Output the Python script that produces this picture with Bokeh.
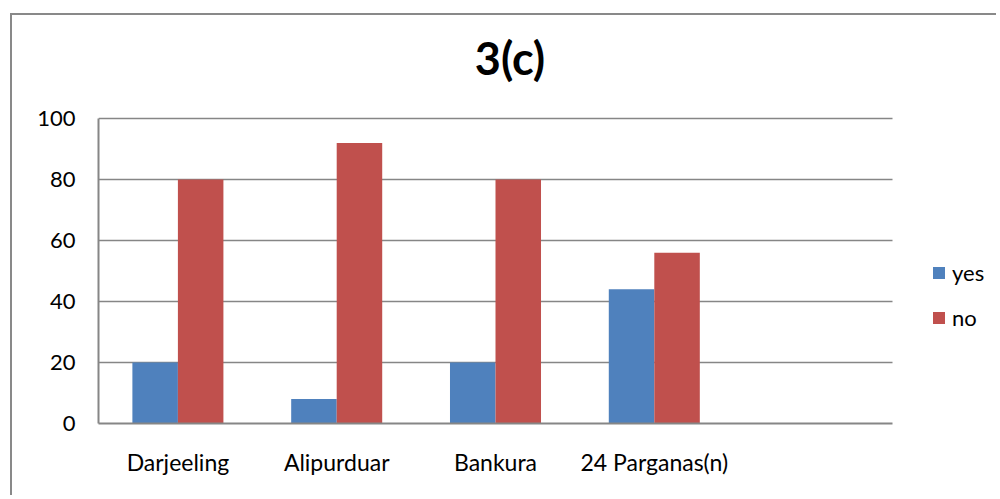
from bokeh.plotting import figure
from bokeh.models import (ColumnDataSource, Range1d, FixedTicker, Legend, LegendItem, Label)
from bokeh.embed import file_html
from bokeh.resources import INLINE

categories = ["Darjeeling", "Alipurduar", "Bankura", "24 Parganas(n)"]
yes_vals = [20, 8, 20, 44]
no_vals = [80, 92, 80, 56]
series_names = ["yes", "no"]
y_ticks = [0, 20, 40, 60, 80, 100]
title_text = "3(c)"

FONT = "Lato"
BLUE = "#4F81BD"
RED = "#C0504D"
GRID = "#868686"

n_slots = len(categories) + 1
centers = [i + 0.5 for i in range(len(categories))]
bw = 0.2866
src = ColumnDataSource(dict(
    x_yes=[c - bw / 2 for c in centers],
    x_no=[c + bw / 2 for c in centers],
    yes=yes_vals, no=no_vals, cat=categories,
))
y_max = y_ticks[-1]
grid_src = ColumnDataSource(dict(
    x0=[0] * (len(y_ticks) - 1), x1=[n_slots] * (len(y_ticks) - 1),
    y=y_ticks[1:],
))

# layout geometry (canvas pixels); the frame spans to the right and top edges
W, H = 986, 482
LEFT, BOTTOM = 86, 408
PLOT_W, PLOT_H = 794, 305          # size of the value/category area
x_end = n_slots * (W - LEFT) / PLOT_W
y_end = y_max * BOTTOM / PLOT_H

p = figure(width=W, height=H, output_backend="svg", toolbar_location=None,
           x_range=Range1d(0, x_end), y_range=Range1d(0, y_end),
           min_border_left=LEFT, min_border_right=0,
           min_border_top=0, min_border_bottom=H - BOTTOM)
p.styles = {"margin-left": "10px", "margin-top": "13px",
            "border-left": "2px solid #898989", "border-top": "2px solid #898989"}
p.outline_line_color = None
p.background_fill_color = "white"
p.border_fill_color = "white"
p.xgrid.visible = False
p.ygrid.visible = False

p.segment(x0="x0", y0="y", x1="x1", y1="y", source=grid_src,
          line_color=GRID, line_width=1.5)
r_yes = p.vbar(x="x_yes", top="yes", width=bw, source=src, fill_color=BLUE, line_color=None)
r_no = p.vbar(x="x_no", top="no", width=bw, source=src, fill_color=RED, line_color=None)

# axes
p.xaxis.ticker = FixedTicker(ticks=centers)
p.xaxis.major_label_overrides = {c: lab for c, lab in zip(centers, categories)}
p.xaxis.bounds = (0, n_slots)
p.yaxis.ticker = FixedTicker(ticks=y_ticks)
p.yaxis.bounds = (0, y_max)
for ax in (p.xaxis[0], p.yaxis[0]):
    ax.axis_line_color = GRID
    ax.axis_line_width = 2
    ax.major_tick_line_color = None
    ax.minor_tick_line_color = None
    ax.major_label_text_font = FONT
    ax.major_label_text_color = "black"
p.xaxis.major_label_text_font_size = "23px"
p.yaxis.major_label_text_font_size = "22px"
p.xaxis.major_label_standoff = 18
p.yaxis.major_label_standoff = 17

# title (inside the frame, which spans the top area)
title = Label(x=411.5, y=366, x_units="screen", y_units="screen", text=title_text,
              text_align="center", text_baseline="alphabetic", text_font=FONT,
              text_font_size="45px", text_font_style="bold", text_color="black")
p.add_layout(title)

legend = Legend(items=[LegendItem(label=series_names[0], renderers=[r_yes]),
                       LegendItem(label=series_names[1], renderers=[r_no])],
                location=(833, 91), orientation="vertical")
legend.margin = 0
legend.padding = 0
legend.border_line_color = None
legend.background_fill_alpha = 0
legend.glyph_width = 15
legend.glyph_height = 15
legend.label_standoff = 6
legend.label_height = 30
legend.spacing = 15
legend.label_text_font = FONT
legend.label_text_font_size = "22px"
legend.label_text_color = "black"
p.add_layout(legend, "center")

open("out.html", "w").write(file_html(p, INLINE))
